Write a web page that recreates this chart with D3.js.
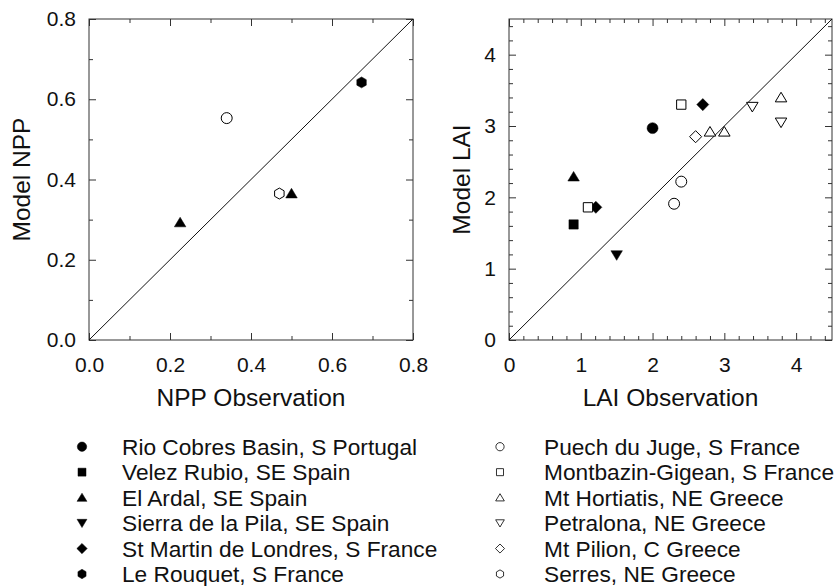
<!DOCTYPE html>
<html>
<head>
<meta charset="utf-8">
<title>Model vs observation</title>
<script src="https://d3js.org/d3.v7.min.js"></script>
<style>
  body { margin: 0; background: #fff; }
  svg { display: block; font-family: "Liberation Sans", Arial, sans-serif; }
  .tick text { font-size: 21px; fill: #111; }
  .tick line { stroke: #333; }
  .title { font-size: 24.5px; fill: #111; }
  .legend text { font-size: 22.7px; fill: #111; }
</style>
</head>
<body>
<script>
// sites, in legend order
var sites = [
  "Rio Cobres Basin, S Portugal",
  "Velez Rubio, SE Spain",
  "El Ardal, SE Spain",
  "Sierra de la Pila, SE Spain",
  "St Martin de Londres, S France",
  "Le Rouquet, S France",
  "Puech du Juge, S France",
  "Montbazin-Gigean, S France",
  "Mt Hortiatis, NE Greece",
  "Petralona, NE Greece",
  "Mt Pilion, C Greece",
  "Serres, NE Greece"
];

// [site index, observation, model]
var nppPoints = [
  [2, 0.225, 0.293],
  [2, 0.50, 0.365],
  [5, 0.673, 0.642],
  [6, 0.34, 0.553],
  [11, 0.47, 0.365]
];

var laiPoints = [
  [0, 2.0, 2.97],
  [1, 0.9, 1.62],
  [2, 0.9, 2.29],
  [3, 1.5, 1.19],
  [4, 2.7, 3.30],
  [4, 1.21, 1.86],
  [6, 2.4, 2.22],
  [6, 2.3, 1.91],
  [7, 2.4, 3.30],
  [7, 1.1, 1.86],
  [8, 2.8, 2.92],
  [8, 3.0, 2.92],
  [8, 3.79, 3.40],
  [9, 3.39, 3.27],
  [9, 3.79, 3.05],
  [10, 2.6, 2.85]
];

var nppTicks = [0, 0.2, 0.4, 0.6, 0.8];
var nppMinor = [0.1, 0.3, 0.5, 0.7];
var laiTicks = [0, 1, 2, 3, 4];
var laiMinor = [0.2, 0.4, 0.6, 0.8, 1.2, 1.4, 1.6, 1.8, 2.2, 2.4, 2.6, 2.8, 3.2, 3.4, 3.6, 3.8, 4.2, 4.4];

// marker shapes, drawn at unit size r
function poly(pts) {
  return { draw: function(ctx, size) {
    var r = Math.sqrt(size);
    pts.forEach(function(p, i) {
      if (i == 0) ctx.moveTo(p[0] * r, p[1] * r); else ctx.lineTo(p[0] * r, p[1] * r);
    });
    ctx.closePath();
  }};
}
var hexPts = d3.range(6).map(function(i) {
  var a = Math.PI / 3 * i - Math.PI / 2;
  return [Math.cos(a), Math.sin(a)];
});
var shapes = {
  circle: { draw: function(ctx, size) { var r = Math.sqrt(size); ctx.moveTo(r, 0); ctx.arc(0, 0, r, 0, 2 * Math.PI); } },
  square: poly([[-0.85, -0.85], [0.85, -0.85], [0.85, 0.85], [-0.85, 0.85]]),
  up: poly([[0, -0.95], [1.05, 0.8], [-1.05, 0.8]]),
  down: poly([[0, 0.95], [1.05, -0.8], [-1.05, -0.8]]),
  diamond: poly([[0, -1.1], [1.1, 0], [0, 1.1], [-1.1, 0]]),
  hex: poly(hexPts)
};
var siteShape = ["circle", "square", "up", "down", "diamond", "hex",
                 "circle", "square", "up", "down", "diamond", "hex"];
var siteFilled = function(i) { return i < 6; };

var width = 835, height = 586;
var svg = d3.select("body").append("svg")
  .attr("width", width)
  .attr("height", height);

function panel(opt) {
  var x = d3.scaleLinear().domain(opt.domain).range([opt.left, opt.right]);
  var y = d3.scaleLinear().domain(opt.domain).range([opt.bottom, opt.top]);
  var g = svg.append("g");

  function ticks(axis, tv, size, labels) {
    return axis.tickValues(tv).tickSize(-size).tickFormat(labels ? opt.fmt : "");
  }

  // major + minor ticks on all four sides, pointing inward
  var sides = [
    [function() { return d3.axisBottom(x); }, "translate(0," + opt.bottom + ")", true],
    [function() { return d3.axisTop(x); }, "translate(0," + opt.top + ")", false],
    [function() { return d3.axisLeft(y); }, "translate(" + opt.left + ",0)", true],
    [function() { return d3.axisRight(y); }, "translate(" + opt.right + ",0)", false]
  ];
  sides.forEach(function(s, i) {
    var major = g.append("g").attr("transform", s[1])
      .call(ticks(s[0](), opt.ticks, 7, s[2]).tickPadding(i == 0 ? 17 : 13));
    major.select(".domain").remove();
    var minor = g.append("g").attr("transform", s[1])
      .call(ticks(s[0](), opt.minor, 4, false));
    minor.select(".domain").remove();
  });

  g.append("rect")
    .attr("x", opt.left).attr("y", opt.top)
    .attr("width", opt.right - opt.left).attr("height", opt.bottom - opt.top)
    .attr("fill", "none").attr("stroke", "#333").attr("stroke-width", 1);

  // 1:1 line
  g.append("line")
    .attr("x1", x(opt.domain[0])).attr("y1", y(opt.domain[0]))
    .attr("x2", x(opt.domain[1])).attr("y2", y(opt.domain[1]))
    .attr("stroke", "#111").attr("stroke-width", 1);

  g.selectAll("path.pt")
    .data(opt.points)
    .enter()
    .append("path")
    .attr("class", "pt")
    .attr("transform", function(d) { return "translate(" + x(d[1]) + "," + y(d[2]) + ")"; })
    .attr("d", function(d) { return d3.symbol().type(shapes[siteShape[d[0]]]).size(30)(); })
    .attr("fill", function(d) { return siteFilled(d[0]) ? "#000" : "#fff"; })
    .attr("stroke", "#000")
    .attr("stroke-width", function(d) { return siteFilled(d[0]) ? 0.5 : 1; });

  g.append("text").attr("class", "title")
    .attr("x", (opt.left + opt.right) / 2).attr("y", 406)
    .attr("text-anchor", "middle")
    .text(opt.xTitle);
  g.append("text").attr("class", "title")
    .attr("transform", "translate(" + opt.yTitleX + "," + (opt.top + opt.bottom) / 2 + ") rotate(-90)")
    .attr("text-anchor", "middle")
    .text(opt.yTitle);
}

panel({
  domain: [0, 0.8], ticks: nppTicks, minor: nppMinor, fmt: d3.format(".1f"),
  left: 89, right: 413, top: 19, bottom: 340,
  points: nppPoints, xTitle: "NPP Observation", yTitle: "Model NPP", yTitleX: 30
});
panel({
  domain: [0, 4.5], ticks: laiTicks, minor: laiMinor, fmt: d3.format("d"),
  left: 509, right: 832, top: 19, bottom: 340,
  points: laiPoints, xTitle: "LAI Observation", yTitle: "Model LAI", yTitleX: 470
});

// legend: two columns of six
var legend = svg.append("g").attr("class", "legend");
var rowY = d3.scalePoint().domain(d3.range(6)).range([446.7, 574]);
var item = legend.selectAll("g.item")
  .data(sites)
  .enter()
  .append("g")
  .attr("class", "item")
  .attr("transform", function(d, i) {
    return "translate(" + (i < 6 ? 82 : 500) + "," + rowY(i % 6) + ")";
  });
item.append("path")
  .attr("d", function(d, i) { return d3.symbol().type(shapes[siteShape[i]]).size(i < 6 ? 22 : 17)(); })
  .attr("fill", function(d, i) { return siteFilled(i) ? "#000" : "#fff"; })
  .attr("stroke", "#000")
  .attr("stroke-width", function(d, i) { return siteFilled(i) ? 0.5 : 0.8; });
item.append("text")
  .attr("x", function(d, i) { return i < 6 ? 40 : 44; })
  .attr("dy", "0.36em")
  .text(function(d) { return d; });
</script>
</body>
</html>
